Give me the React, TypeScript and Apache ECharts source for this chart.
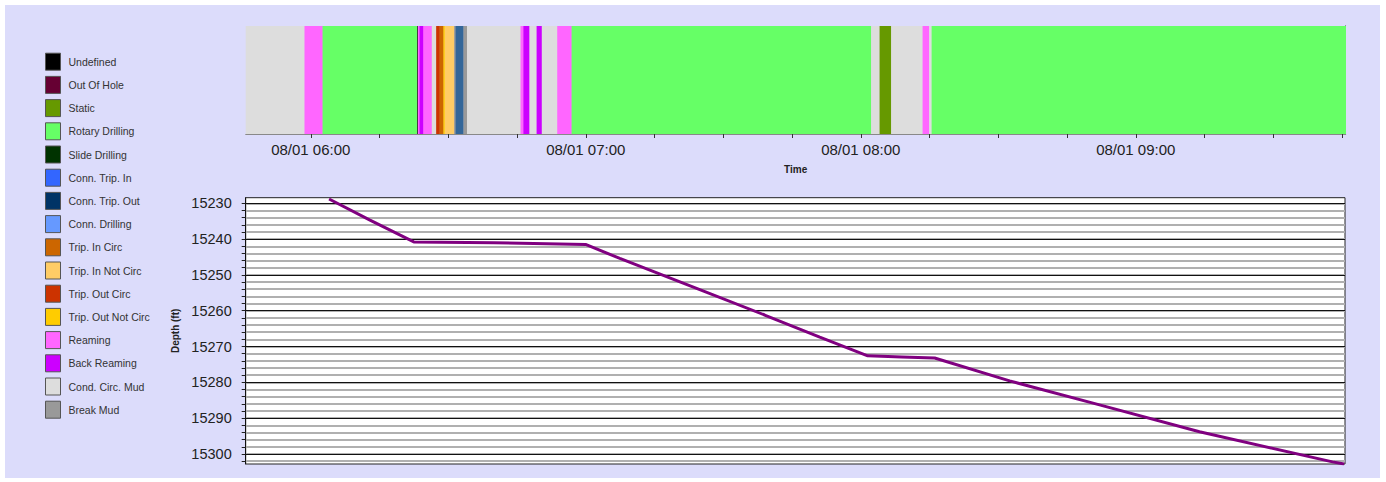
import React, { useEffect, useRef } from 'react';
import * as echarts from 'echarts';

const STATES = ['Undefined', 'Out Of Hole', 'Static', 'Rotary Drilling', 'Slide Drilling', 'Conn. Trip. In', 'Conn. Trip. Out', 'Conn. Drilling', 'Trip. In Circ', 'Trip. In Not Circ', 'Trip. Out Circ', 'Trip. Out Not Circ', 'Reaming', 'Back Reaming', 'Cond. Circ. Mud', 'Break Mud'];
const STATE_COLORS = ['#000000', '#660033', '#669900', '#66FF66', '#003300', '#3366FF', '#003366', '#6699FF', '#CC6600', '#FFCC66', '#CC3300', '#FFCC00', '#FF66FF', '#CC00FF', '#DDDDDD', '#999999'];

// rig activity segments: [start, end, state, optional drawn colour]
const SEGMENTS: [string, string, string, string?][] = [
  ['05:45:48', '05:58:32', 'Cond. Circ. Mud'],
  ['05:58:32', '06:02:28', 'Reaming'],
  ['06:02:28', '06:23:08', 'Rotary Drilling'],
  ['06:23:08', '06:23:21', 'Undefined'],
  ['06:23:21', '06:23:42', 'Reaming'],
  ['06:23:42', '06:24:26', 'Back Reaming'],
  ['06:24:26', '06:26:24', 'Reaming'],
  ['06:26:24', '06:27:16', 'Cond. Circ. Mud'],
  ['06:27:16', '06:28:00', 'Trip. Out Circ'],
  ['06:28:00', '06:28:56', 'Trip. In Circ'],
  ['06:28:56', '06:29:09', 'Trip. Out Not Circ'],
  ['06:29:09', '06:31:16', 'Trip. In Not Circ'],
  ['06:31:16', '06:31:29', 'Break Mud'],
  ['06:31:29', '06:33:18', 'Conn. Trip. Out', '#336699'],
  ['06:33:18', '06:34:00', 'Break Mud'],
  ['06:34:00', '06:45:40', 'Cond. Circ. Mud'],
  ['06:45:40', '06:46:23', 'Reaming'],
  ['06:46:23', '06:47:42', 'Back Reaming'],
  ['06:47:42', '06:49:10', 'Cond. Circ. Mud'],
  ['06:49:10', '06:50:24', 'Back Reaming'],
  ['06:50:24', '06:53:41', 'Cond. Circ. Mud'],
  ['06:53:41', '06:56:48', 'Reaming'],
  ['06:56:48', '08:02:15', 'Rotary Drilling'],
  ['08:02:15', '08:04:00', 'Cond. Circ. Mud'],
  ['08:04:00', '08:06:37', 'Static'],
  ['08:06:37', '08:13:23', 'Cond. Circ. Mud'],
  ['08:13:23', '08:14:55', 'Reaming'],
  ['08:14:55', '08:15:21', 'Cond. Circ. Mud'],
  ['08:15:21', '09:45:48', 'Rotary Drilling'],
];

const DEPTH_TIMES = ['06:04:00', '06:12:56', '06:22:30', '06:40:00', '07:00:00', '07:07:29', '07:24:56', '07:39:06', '07:51:08', '08:01:36', '08:09:00', '08:16:13', '08:32:35', '08:52:13', '09:14:02', '09:43:04', '09:45:36'];
const DEPTH_VALUES = [15228.8, 15234.7, 15240.8, 15241.0, 15241.5, 15245.4, 15254.1, 15261.2, 15267.4, 15272.6, 15272.9, 15273.2, 15279.6, 15286.3, 15293.8, 15302.2, 15302.8];

const TIME_START = '05:45:48';
const TIME_END = '09:45:48';
const TIME_LABELS = ['06:00', '07:00', '08:00', '09:00'];
const TIME_TICKS = ['06:00', '06:15', '06:30', '06:45', '07:00', '07:15', '07:30', '07:45', '08:00', '08:15', '08:30', '08:45', '09:00', '09:15', '09:30', '09:45'];
const DATE_LABEL = '08/01';

const DEPTH_MIN = 15228.44;
const DEPTH_MAX = 15302.8;
const DEPTH_LABELS = [15230, 15240, 15250, 15260, 15270, 15280, 15290, 15300];
const DEPTH_MINOR = [15230, 15232, 15234, 15236, 15238, 15240, 15242, 15244, 15246, 15248, 15250, 15252, 15254, 15256, 15258, 15260, 15262, 15264, 15266, 15268, 15270, 15272, 15274, 15276, 15278, 15280, 15282, 15284, 15286, 15288, 15290, 15292, 15294, 15296, 15298, 15300, 15302];

const toMin = (s: string) => {
  const p = s.split(':').map(Number);
  return p[0] * 60 + p[1] + (p[2] || 0) / 60;
};
const fmt = (v: number) => {
  const h = Math.floor(v / 60 + 1e-6);
  const m = Math.round(v - h * 60);
  return `${DATE_LABEL} ${String(h).padStart(2, '0')}:${String(m).padStart(2, '0')}`;
};

export default function App() {
  const ref = useRef<HTMLDivElement>(null);
  useEffect(() => {
    if (!ref.current) return;
    const chart = echarts.init(ref.current, undefined, { renderer: 'svg' });
    const xMin = toMin(TIME_START);
    const xMax = toMin(TIME_END);
    const font = "'Liberation Sans', Arial, sans-serif";

    const stateSeries = STATES.map((name, si) => {
      const segs = SEGMENTS.filter((s) => s[2] === name);
      return {
        type: 'custom',
        name,
        xAxisIndex: 0,
        yAxisIndex: 0,
        itemStyle: { color: STATE_COLORS[si] },
        clip: true,
        encode: { x: [0, 1] },
        data: segs.map((s) => [toMin(s[0]), toMin(s[1])]),
        renderItem: (params: any, api: any) => {
          const x0 = api.coord([api.value(0), 0])[0];
          const x1 = api.coord([api.value(1), 0])[0];
          const cs = params.coordSys;
          const seg = segs[params.dataIndex];
          return {
            type: 'rect',
            shape: { x: x0, y: cs.y, width: x1 - x0 + 0.4, height: cs.height },
            style: { fill: seg[3] || STATE_COLORS[si] },
          };
        },
      };
    });

    chart.setOption({
      animation: false,
      backgroundColor: '#ffffff',
      graphic: [
        { type: 'rect', z: -10, shape: { x: 5, y: 5, width: 1375, height: 473 }, style: { fill: '#DCDCFB' } },
      ],
      legend: {
        orient: 'vertical',
        left: 45,
        top: 52.7,
        padding: 0,
        itemWidth: 15,
        itemHeight: 17,
        itemGap: 5.2,
        icon: 'rect',
        selectedMode: false,
        data: STATES,
        itemStyle: { borderColor: '#555555', borderWidth: 1 },
        textStyle: { fontFamily: font, fontSize: 10.5, lineHeight: 17, color: '#333333', padding: [0, 0, 0, 3] },
      },
      grid: [
        { left: 245.7, width: 1100, top: 26, height: 108 },
        { left: 245.7, width: 1099.3, top: 197.7, height: 266.3, show: true, backgroundColor: '#ffffff', borderColor: '#222222', borderWidth: 1 },
      ],
      xAxis: [
        {
          type: 'value', gridIndex: 0, min: xMin, max: xMax,
          axisLine: { show: true, lineStyle: { color: '#888888', width: 1 } },
          axisTick: { show: true, customValues: TIME_TICKS.map(toMin), length: 4, lineStyle: { color: '#333333' } },
          axisLabel: { customValues: TIME_LABELS.map(toMin), formatter: (v: number) => fmt(v), fontSize: 15, color: '#222222', margin: 8, fontFamily: font },
          splitLine: { show: false },
          name: 'Time', nameLocation: 'middle', nameGap: 30,
          nameTextStyle: { fontWeight: 'bold', fontSize: 10, color: '#222222', fontFamily: font },
        },
        {
          type: 'value', gridIndex: 1, min: xMin, max: xMax,
          axisLine: { show: false }, axisTick: { show: false }, axisLabel: { show: false }, splitLine: { show: false },
        },
      ],
      yAxis: [
        {
          type: 'value', gridIndex: 0, min: 0, max: 1, position: 'right',
          axisLine: { show: true, lineStyle: { color: '#222222' } },
          axisTick: { show: false }, axisLabel: { show: false }, splitLine: { show: false },
        },
        {
          type: 'value', gridIndex: 1, inverse: true, min: DEPTH_MIN, max: DEPTH_MAX,
          axisLine: { show: true, lineStyle: { color: '#111111' } },
          axisTick: { show: true, customValues: DEPTH_MINOR, length: 4, lineStyle: { color: '#222222' } },
          axisLabel: { customValues: DEPTH_LABELS, formatter: (v: number) => String(v), fontSize: 14.5, color: '#222222', margin: 14, fontFamily: font },
          splitLine: { show: true, lineStyle: { color: '#B0B0B0', width: 2 } },
          name: 'Depth (ft)', nameLocation: 'middle', nameGap: 64,
          nameTextStyle: { fontWeight: 'bold', fontSize: 10, color: '#222222', fontFamily: font },
        },
      ],
      series: [
        ...stateSeries,
        {
          type: 'line',
          name: 'major',
          xAxisIndex: 1,
          yAxisIndex: 1,
          data: [],
          markLine: {
            silent: true,
            symbol: 'none',
            label: { show: false },
            lineStyle: { color: '#111111', width: 1, type: 'solid' },
            data: DEPTH_LABELS.map((v) => ({ yAxis: v })),
          },
        },
        {
          type: 'line',
          name: 'Depth',
          xAxisIndex: 1,
          yAxisIndex: 1,
          z: 10,
          showSymbol: false,
          lineStyle: { color: '#800080', width: 3 },
          data: DEPTH_TIMES.map((t, i) => [toMin(t), DEPTH_VALUES[i]]),
        },
      ],
    });
    return () => chart.dispose();
  }, []);
  return <div ref={ref} style={{ position: 'fixed', left: 0, top: 0, width: 1386, height: 482 }} />;
}
